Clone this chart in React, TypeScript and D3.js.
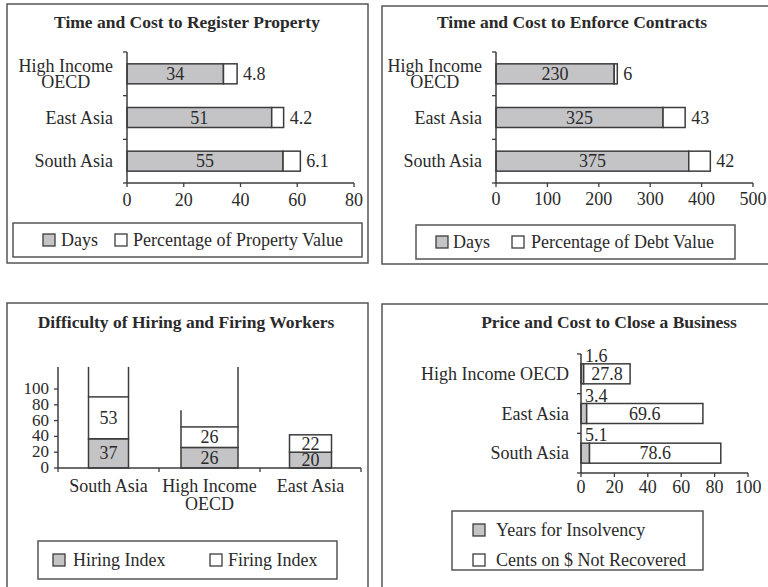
import React from 'react';
import * as d3 from 'd3';

// ---- data ----
const propRegions = ['High Income|OECD', 'East Asia', 'South Asia'];
const propDays = [34, 51, 55];
const propPct = [4.8, 4.2, 6.1];
const propTicks = [0, 20, 40, 60, 80];

const contractRegions = ['High Income|OECD', 'East Asia', 'South Asia'];
const contractDays = [230, 325, 375];
const contractPct = [6, 43, 42];
const contractTicks = [0, 100, 200, 300, 400, 500];

const workerRegions = ['South Asia', 'High Income|OECD', 'East Asia'];
const hiringIndex = [37, 26, 20];
const firingIndex = [53, 26, 22];
const workerTicks = [0, 20, 40, 60, 80, 100];
// stray bar edges left over in the source chart (value the edge reaches)
const workerEdgeLeft = [128, 73, null];
const workerEdgeRight = [128, 128, null];

const closeRegions = ['High Income OECD', 'East Asia', 'South Asia'];
const insolvencyYears = [1.6, 3.4, 5.1];
const centsLost = [27.8, 69.6, 78.6];
const closeTicks = [0, 20, 40, 60, 80, 100];

// ---- style ----
const FONT = '"Liberation Serif", "Times New Roman", serif';
const FS = 18;
const GRAY = '#c4c4c7';
const INK = '#2a2a2a';
const LINE = '#3c3c3c';
const FRAME = '#555';

let ctx: CanvasRenderingContext2D | null = null;
function textW(s: string, size = FS) {
  if (!ctx) ctx = document.createElement('canvas').getContext('2d');
  ctx!.font = `${size}px ${FONT}`;
  return ctx!.measureText(s).width;
}

// multi line label, lines split by '|'
function Label({x, y, text, anchor, lineH = 16}: any) {
  const lines = text.split('|');
  if (lines.length === 1) {
    return <text x={x} y={y} textAnchor={anchor}>{text}</text>;
  }
  let cx = x;
  if (anchor === 'end') {
    const w = d3.max(lines, (l: string) => textW(l)) as number;
    cx = x - w / 2;
  }
  const top = y - (lines.length - 1) * lineH / 2;
  return (
    <g textAnchor="middle">
      {lines.map((l: string, i: number) => (
        <text key={i} x={cx} y={anchor === 'end' ? top + i * lineH : y + i * lineH}>{l}</text>
      ))}
    </g>
  );
}

function Swatch({x, y, fill}: any) {
  return <rect x={x} y={y - 6} width={12} height={12} fill={fill} stroke={LINE} strokeWidth={1.3} />;
}

function HPanel({regions, a, b, domain, ticks, xr, yr, labelRight, mode, tickDy}: any) {
  const x = d3.scaleLinear().domain(domain).range(xr);
  const y = d3.scaleBand().domain(regions).range(yr);
  const bh = 20;
  const bounds = [yr[0], ...regions.slice(1).map((r: string) => y(r) as number), yr[1]];
  return (
    <g>
      {regions.map((r: string, i: number) => {
        const cy = (y(r) as number) + y.bandwidth() / 2;
        const xa = x(a[i]);
        const xb = x(a[i] + b[i]);
        return (
          <g key={r}>
            <rect x={x(0)} y={cy - bh / 2} width={xa - x(0)} height={bh} fill={GRAY} stroke={LINE} strokeWidth={1.5} />
            <rect x={xa} y={cy - bh / 2} width={xb - xa} height={bh} fill="#fff" stroke={LINE} strokeWidth={1.5} />
            {mode === 'days' ? (
              <>
                <text x={(x(0) + xa) / 2} y={cy + 6} textAnchor="middle">{a[i]}</text>
                <text x={xb + 6} y={cy + 6}>{b[i]}</text>
              </>
            ) : (
              <>
                <text x={x(0) + 4} y={cy - bh / 2 - 2}>{a[i]}</text>
                <text x={(xa + xb) / 2} y={cy + 6} textAnchor="middle">{b[i]}</text>
              </>
            )}
            <Label x={labelRight} y={cy + 6} text={r} anchor="end" />
          </g>
        );
      })}
      <line x1={xr[0]} x2={xr[0]} y1={yr[0]} y2={yr[1]} stroke={LINE} strokeWidth={1.5} />
      {bounds.map((v: number, i: number) => (
        <line key={i} x1={xr[0] - 4} x2={xr[0]} y1={v} y2={v} stroke={LINE} strokeWidth={1.3} />
      ))}
      <line x1={xr[0]} x2={xr[1]} y1={yr[1]} y2={yr[1]} stroke={LINE} strokeWidth={1.5} />
      {ticks.map((t: number) => (
        <g key={t}>
          <line x1={x(t)} x2={x(t)} y1={yr[1]} y2={yr[1] + 4} stroke={LINE} strokeWidth={1.3} />
          <text x={x(t)} y={yr[1] + tickDy} textAnchor="middle">{t}</text>
        </g>
      ))}
    </g>
  );
}

function VPanel() {
  const x = d3.scaleBand().domain(workerRegions).range([58, 361]);
  const y = d3.scaleLinear().domain([0, 100]).range([468, 389]);
  const widths = [40, 57, 42];
  const bounds = [58, ...workerRegions.slice(1).map(r => x(r) as number), 361];
  return (
    <g>
      {workerRegions.map((r, i) => {
        const cx = (x(r) as number) + x.bandwidth() / 2;
        const w = widths[i];
        const l = cx - w / 2;
        const top = y(hiringIndex[i] + firingIndex[i]);
        const mid = y(hiringIndex[i]);
        const el = workerEdgeLeft[i];
        const er = workerEdgeRight[i];
        return (
          <g key={r}>
            <rect x={l} y={mid} width={w} height={y(0) - mid} fill={GRAY} stroke={LINE} strokeWidth={1.5} />
            <rect x={l} y={top} width={w} height={mid - top} fill="#fff" stroke={LINE} strokeWidth={1.5} />
            {el != null && <line x1={l} x2={l} y1={top} y2={y(el)} stroke={LINE} strokeWidth={1.5} />}
            {er != null && <line x1={l + w} x2={l + w} y1={top} y2={y(er)} stroke={LINE} strokeWidth={1.5} />}
            <text x={cx} y={(mid + y(0)) / 2 + 6} textAnchor="middle">{hiringIndex[i]}</text>
            <text x={cx} y={(top + mid) / 2 + 6} textAnchor="middle">{firingIndex[i]}</text>
            <Label x={cx} y={492} text={r} anchor="middle" lineH={18} />
          </g>
        );
      })}
      <line x1={58} x2={58} y1={y(0)} y2={y(128)} stroke={LINE} strokeWidth={1.5} />
      {workerTicks.map(t => (
        <g key={t}>
          <line x1={54} x2={58} y1={y(t)} y2={y(t)} stroke={LINE} strokeWidth={1.3} />
          <text x={49} y={y(t) + 5} textAnchor="end" fontSize={17}>{t}</text>
        </g>
      ))}
      <line x1={58} x2={361} y1={y(0)} y2={y(0)} stroke={LINE} strokeWidth={1.5} />
      {bounds.map((v, i) => (
        <line key={i} x1={v} x2={v} y1={y(0)} y2={y(0) + 4} stroke={LINE} strokeWidth={1.3} />
      ))}
    </g>
  );
}

export default function App() {
  const titleStyle = {fontWeight: 'bold', fontSize: 17.5} as any;
  return (
    <svg width={768} height={587} style={{position: 'absolute', left: 0, top: 0, background: '#fff'}}
      fontFamily={FONT} fontSize={FS} fill={INK}>
      {/* frames */}
      <g fill="none" stroke={FRAME} strokeWidth={1.5}>
        <rect x={7} y={4} width={361} height={259} />
        <rect x={382} y={6} width={400} height={258} />
        <path d="M7,620 V303 H368 V620" />
        <path d="M382,620 V304 H790" />
      </g>

      {/* panel 1 */}
      <text x={187} y={28} textAnchor="middle" style={titleStyle}>Time and Cost to Register Property</text>
      <HPanel regions={propRegions} a={propDays} b={propPct} domain={[0, 80]} ticks={propTicks}
        xr={[127, 354]} yr={[52, 183]} labelRight={113} mode="days" tickDy={23} />
      <rect x={13} y={223} width={349} height={34} fill="none" stroke={FRAME} strokeWidth={1.5} />
      <Swatch x={43} y={240} fill={GRAY} />
      <text x={61} y={246}>Days</text>
      <Swatch x={115} y={240} fill="#fff" />
      <text x={133} y={246}>Percentage of Property Value</text>

      {/* panel 2 */}
      <text x={572} y={28} textAnchor="middle" style={titleStyle}>Time and Cost to Enforce Contracts</text>
      <HPanel regions={contractRegions} a={contractDays} b={contractPct} domain={[0, 500]} ticks={contractTicks}
        xr={[496, 753]} yr={[52, 183]} labelRight={482} mode="days" tickDy={22} />
      <rect x={416} y={225} width={319} height={34} fill="none" stroke={FRAME} strokeWidth={1.5} />
      <Swatch x={436} y={242} fill={GRAY} />
      <text x={453} y={248}>Days</text>
      <Swatch x={512} y={242} fill="#fff" />
      <text x={531} y={248}>Percentage of Debt Value</text>

      {/* panel 3 */}
      <text x={186} y={328} textAnchor="middle" style={titleStyle}>Difficulty of Hiring and Firing Workers</text>
      <VPanel />
      <rect x={38} y={541} width={299} height={38} fill="none" stroke={FRAME} strokeWidth={1.5} />
      <Swatch x={53} y={560} fill={GRAY} />
      <text x={73} y={566}>Hiring Index</text>
      <Swatch x={210} y={560} fill="#fff" />
      <text x={228} y={566}>Firing Index</text>

      {/* panel 4 */}
      <text x={609} y={328} textAnchor="middle" style={titleStyle}>Price and Cost to Close a Business</text>
      <HPanel regions={closeRegions} a={insolvencyYears} b={centsLost} domain={[0, 100]} ticks={closeTicks}
        xr={[581, 748]} yr={[354, 473]} labelRight={569} mode="close" tickDy={20} />
      <rect x={452} y={511} width={251} height={59} fill="none" stroke={FRAME} strokeWidth={1.5} />
      <Swatch x={473} y={530} fill={GRAY} />
      <text x={496} y={536}>Years for Insolvency</text>
      <Swatch x={473} y={560} fill="#fff" />
      <text x={496} y={566}>Cents on $ Not Recovered</text>
    </svg>
  );
}
